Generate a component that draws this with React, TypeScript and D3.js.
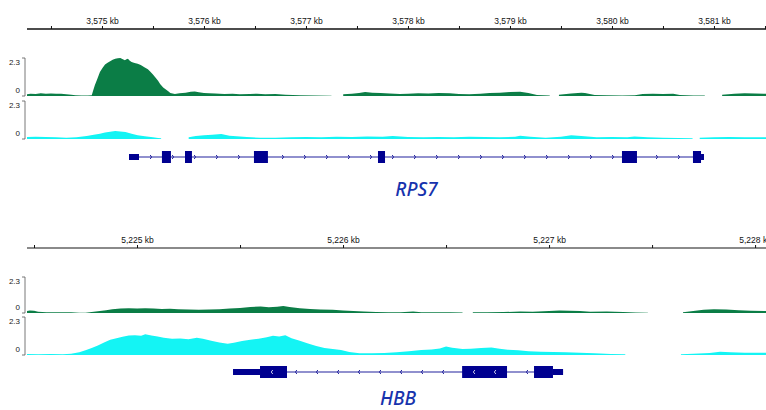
import React, { useEffect, useRef } from 'react';
import * as d3 from 'd3';

type Pt = [number, number | null];

// ---- RPS7 locus (kb) ----
const rpsDomain = [3574.265, 3581.51];
const rpsMajorTicks = [3575, 3576, 3577, 3578, 3579, 3580, 3581];
const rpsMinorTicks = [3574.5, 3575.5, 3576.5, 3577.5, 3578.5, 3579.5, 3580.5, 3581.5];

const rpsGreen: Pt[] = [
  [3574.265, 0.10], [3574.30, 0.14], [3574.35, 0.12], [3574.40, 0.16], [3574.45, 0.14],
  [3574.50, 0.15], [3574.55, 0.13], [3574.60, 0.14], [3574.65, 0.11], [3574.70, 0.08],
  [3574.74, 0.04], [3574.80, 0.03], [3574.86, 0.03], [3574.90, 0.04], [3574.91, 0.25],
  [3574.93, 0.65], [3574.955, 1.05], [3574.98, 1.45], [3575.005, 1.70], [3575.03, 1.90],
  [3575.055, 2.02], [3575.08, 2.10], [3575.105, 2.20], [3575.13, 2.26], [3575.155, 2.28],
  [3575.18, 2.30], [3575.20, 2.24], [3575.225, 2.17], [3575.24, 2.22], [3575.255, 2.26],
  [3575.27, 2.15], [3575.29, 2.06], [3575.32, 2.00], [3575.35, 1.95], [3575.38, 1.88],
  [3575.42, 1.72], [3575.45, 1.62], [3575.47, 1.50], [3575.50, 1.30], [3575.52, 1.15],
  [3575.55, 0.92], [3575.57, 0.73], [3575.60, 0.52], [3575.62, 0.42], [3575.65, 0.28],
  [3575.67, 0.18], [3575.715, 0.12], [3575.76, 0.16], [3575.82, 0.20], [3575.87, 0.25],
  [3575.91, 0.27], [3575.95, 0.22], [3576.00, 0.18], [3576.05, 0.17], [3576.11, 0.15],
  [3576.20, 0.12], [3576.28, 0.14], [3576.35, 0.10], [3576.45, 0.12], [3576.52, 0.14],
  [3576.60, 0.11], [3576.70, 0.12], [3576.80, 0.08], [3576.94, 0.04], [3577.10, 0.03],
  [3577.25, 0.02], [3577.30, null], [3577.365, 0.10], [3577.45, 0.14], [3577.52, 0.18],
  [3577.58, 0.24], [3577.65, 0.20], [3577.73, 0.18], [3577.82, 0.15], [3577.92, 0.12],
  [3578.00, 0.14], [3578.10, 0.16], [3578.20, 0.15], [3578.30, 0.18], [3578.41, 0.16],
  [3578.50, 0.12], [3578.60, 0.10], [3578.71, 0.14], [3578.80, 0.18], [3578.90, 0.20],
  [3579.00, 0.24], [3579.10, 0.26], [3579.18, 0.18], [3579.265, 0.06], [3579.39, 0.03],
  [3579.43, null], [3579.48, 0.08], [3579.60, 0.15], [3579.70, 0.20], [3579.735, 0.18],
  [3579.83, 0.06], [3579.95, 0.04], [3580.10, 0.03], [3580.225, 0.05], [3580.30, 0.12],
  [3580.40, 0.14], [3580.50, 0.12], [3580.60, 0.13], [3580.665, 0.06], [3580.80, 0.03],
  [3580.91, 0.03], [3581.00, null], [3581.08, 0.08], [3581.20, 0.14], [3581.30, 0.16],
  [3581.40, 0.15], [3581.51, 0.14],
];

const rpsCyan: Pt[] = [
  [3574.265, 0.12], [3574.35, 0.14], [3574.45, 0.12], [3574.55, 0.10], [3574.65, 0.08],
  [3574.75, 0.10], [3574.85, 0.18], [3574.92, 0.25], [3574.98, 0.32], [3575.03, 0.40],
  [3575.08, 0.44], [3575.13, 0.48], [3575.18, 0.45], [3575.23, 0.42], [3575.30, 0.30],
  [3575.35, 0.22], [3575.42, 0.16], [3575.50, 0.10], [3575.55, 0.06], [3575.58, 0.05],
  [3575.70, null], [3575.85, 0.10], [3575.92, 0.18], [3576.00, 0.22], [3576.08, 0.26],
  [3576.17, 0.30], [3576.25, 0.20], [3576.32, 0.16], [3576.42, 0.12], [3576.55, 0.08],
  [3576.70, 0.07], [3576.85, 0.10], [3577.00, 0.12], [3577.15, 0.10], [3577.30, 0.14],
  [3577.45, 0.12], [3577.60, 0.15], [3577.75, 0.14], [3577.85, 0.18], [3578.00, 0.12],
  [3578.15, 0.10], [3578.30, 0.12], [3578.45, 0.10], [3578.60, 0.14], [3578.75, 0.12],
  [3578.90, 0.10], [3579.05, 0.14], [3579.10, 0.20], [3579.20, 0.14], [3579.35, 0.08],
  [3579.50, 0.14], [3579.60, 0.22], [3579.70, 0.18], [3579.85, 0.10], [3580.00, 0.12],
  [3580.15, 0.10], [3580.22, 0.15], [3580.35, 0.10], [3580.50, 0.08], [3580.65, 0.06],
  [3580.79, 0.05], [3580.82, null], [3580.86, 0.08], [3581.00, 0.10], [3581.15, 0.12],
  [3581.30, 0.10], [3581.51, 0.10],
];

// exons: [start, end, thick?]
const rpsExons: [number, number, boolean][] = [
  [3575.265, 3575.363, false], [3575.588, 3575.676, true], [3575.814, 3575.882, true],
  [3576.49, 3576.627, true], [3577.706, 3577.775, true], [3580.098, 3580.245, true],
  [3580.794, 3580.873, true], [3580.873, 3580.902, false],
];

// ---- HBB locus (kb) ----
const hbbDomain = [5224.466, 5228.053];
const hbbMajorTicks = [5225, 5226, 5227, 5228];
const hbbMinorTicks = [5224.5, 5225.5, 5226.5, 5227.5];

const hbbGreen: Pt[] = [
  [5224.466, 0.12], [5224.48, 0.16], [5224.50, 0.14], [5224.52, 0.08], [5224.56, 0.05],
  [5224.62, 0.05], [5224.68, 0.04], [5224.72, 0.02], [5224.75, 0.02], [5224.78, 0.06],
  [5224.82, 0.12], [5224.85, 0.18], [5224.88, 0.24], [5224.92, 0.28], [5224.96, 0.30],
  [5225.00, 0.28], [5225.04, 0.31], [5225.08, 0.29], [5225.12, 0.26], [5225.16, 0.27],
  [5225.20, 0.24], [5225.25, 0.22], [5225.30, 0.20], [5225.35, 0.22], [5225.40, 0.24],
  [5225.45, 0.28], [5225.50, 0.32], [5225.55, 0.38], [5225.60, 0.42], [5225.64, 0.36],
  [5225.68, 0.40], [5225.71, 0.45], [5225.74, 0.38], [5225.79, 0.30], [5225.84, 0.26],
  [5225.89, 0.22], [5225.95, 0.20], [5226.00, 0.16], [5226.05, 0.12], [5226.10, 0.10],
  [5226.16, 0.06], [5226.22, 0.04], [5226.28, 0.05], [5226.34, 0.10], [5226.38, 0.05],
  [5226.45, 0.04], [5226.52, 0.04], [5226.58, 0.03], [5226.60, null], [5226.63, 0.04],
  [5226.70, 0.05], [5226.78, 0.06], [5226.86, 0.10], [5226.92, 0.08], [5227.00, 0.12],
  [5227.05, 0.16], [5227.10, 0.15], [5227.15, 0.12], [5227.20, 0.08], [5227.28, 0.10],
  [5227.36, 0.06], [5227.42, 0.03], [5227.48, 0.02], [5227.55, null], [5227.65, 0.05],
  [5227.70, 0.12], [5227.75, 0.20], [5227.80, 0.24], [5227.86, 0.22], [5227.92, 0.18],
  [5227.98, 0.14], [5228.053, 0.12],
];

const hbbCyan: Pt[] = [
  [5224.466, 0.06], [5224.52, 0.05], [5224.58, 0.06], [5224.64, 0.05], [5224.68, 0.08],
  [5224.72, 0.16], [5224.75, 0.28], [5224.78, 0.42], [5224.81, 0.58], [5224.84, 0.75],
  [5224.87, 0.92], [5224.90, 1.02], [5224.93, 1.10], [5224.96, 1.18], [5224.99, 1.20],
  [5225.02, 1.16], [5225.04, 1.26], [5225.07, 1.18], [5225.10, 1.12], [5225.13, 1.05],
  [5225.17, 0.98], [5225.21, 1.00], [5225.25, 0.96], [5225.29, 1.04], [5225.32, 0.98],
  [5225.36, 0.86], [5225.40, 0.76], [5225.44, 0.68], [5225.47, 0.74], [5225.51, 0.84],
  [5225.55, 0.92], [5225.59, 0.98], [5225.63, 1.08], [5225.66, 1.16], [5225.69, 1.12],
  [5225.72, 1.20], [5225.75, 1.02], [5225.79, 0.86], [5225.83, 0.70], [5225.87, 0.55],
  [5225.91, 0.42], [5225.95, 0.36], [5225.99, 0.30], [5226.03, 0.18], [5226.08, 0.10],
  [5226.14, 0.10], [5226.20, 0.12], [5226.26, 0.16], [5226.32, 0.22], [5226.38, 0.30],
  [5226.43, 0.34], [5226.47, 0.40], [5226.50, 0.52], [5226.53, 0.44], [5226.58, 0.36],
  [5226.62, 0.38], [5226.67, 0.42], [5226.72, 0.46], [5226.76, 0.38], [5226.80, 0.32],
  [5226.85, 0.28], [5226.90, 0.22], [5226.96, 0.20], [5227.02, 0.18], [5227.08, 0.16],
  [5227.15, 0.14], [5227.22, 0.10], [5227.30, 0.06], [5227.37, 0.04], [5227.50, null],
  [5227.64, 0.05], [5227.70, 0.08], [5227.78, 0.12], [5227.83, 0.20], [5227.88, 0.16],
  [5227.95, 0.14], [5228.053, 0.14],
];

const hbbExons: [number, number, boolean][] = [
  [5225.466, 5225.597, false], [5225.597, 5225.728, true], [5226.578, 5226.796, true],
  [5226.927, 5227.019, true], [5227.019, 5227.068, false],
];

const yMax = 2.3;
const GREEN = '#0b7d46';
const CYAN = '#14f4f4';
const NAVY = '#000090';
const INTRON = '#23239e';

const panels = [
  {
    name: 'RPS7', domain: rpsDomain, major: rpsMajorTicks, minor: rpsMinorTicks,
    axisY: 29, axisColor: '#111', axisWidth: 1.4,
    tracks: [
      { data: rpsGreen, top: 58, bottom: 96, color: GREEN },
      { data: rpsCyan, top: 101, bottom: 139, color: CYAN },
    ],
    exons: rpsExons, strand: '+', geneY: 157, chevStep: 22, labelY: 196,
  },
  {
    name: 'HBB', domain: hbbDomain, major: hbbMajorTicks, minor: hbbMinorTicks,
    axisY: 248, axisColor: '#8a8a8a', axisWidth: 2.2,
    tracks: [
      { data: hbbGreen, top: 277, bottom: 313, color: GREEN },
      { data: hbbCyan, top: 317, bottom: 355, color: CYAN },
    ],
    exons: hbbExons, strand: '-', geneY: 372, chevStep: 21, labelY: 405,
  },
];

const App = () => {
  const svgRef = useRef<SVGSVGElement>(null);

  useEffect(() => {
    const svg = d3.select(svgRef.current);
    svg.selectAll('*').remove();
    const left = 27;
    const right = 766;

    panels.forEach(p => {
      const x = d3.scaleLinear().domain(p.domain).range([left, right]);

      // ruler
      const ax = svg.append('g').attr('transform', `translate(0,${p.axisY})`);
      ax.append('line')
        .attr('x1', left).attr('x2', right)
        .attr('stroke', p.axisColor).attr('stroke-width', p.axisWidth);
      const axis = d3.axisTop(x)
        .tickValues([...p.major, ...p.minor])
        .tickSize(3)
        .tickSizeOuter(0)
        .tickPadding(2)
        .tickFormat(d => (p.major.includes(d as number) ? `${d3.format(',')(d as number)} kb` : ''));
      const ag = ax.append('g').call(axis);
      ag.select('.domain').remove();
      ag.selectAll('line').attr('stroke', '#111');
      ag.selectAll('text')
        .style('font-family', 'Liberation Sans, Arial, sans-serif')
        .style('font-size', '8.5px')
        .attr('fill', '#111');

      // coverage tracks
      p.tracks.forEach(t => {
        const y = d3.scaleLinear().domain([0, yMax]).range([t.bottom, t.top]);
        const area = d3.area<Pt>()
          .defined(d => d[1] !== null)
          .x(d => x(d[0]))
          .y0(t.bottom)
          .y1(d => y(d[1] as number));
        svg.append('path').attr('d', area(t.data)).attr('fill', t.color);

        // data range bracket
        svg.append('path')
          .attr('d', `M22,${t.top}H25V${t.bottom}H22`)
          .attr('fill', 'none').attr('stroke', '#555').attr('stroke-width', 0.8);
        const lab = svg.append('g')
          .style('font-family', 'Liberation Sans, Arial, sans-serif')
          .style('font-size', '8px')
          .attr('fill', '#222')
          .attr('text-anchor', 'end');
        lab.append('text').attr('x', 20).attr('y', y(yMax) + 7).text(String(yMax));
        lab.append('text').attr('x', 20).attr('y', y(0) - 3).text('0');
      });

      // gene model
      const gs = x(p.exons[0][0]);
      const ge = x(p.exons[p.exons.length - 1][1]);
      const g = svg.append('g');
      g.append('line')
        .attr('x1', gs).attr('x2', ge)
        .attr('y1', p.geneY).attr('y2', p.geneY)
        .attr('stroke', INTRON).attr('stroke-width', 1.1);

      const inThick = (px: number) =>
        p.exons.some(e => e[2] && px >= x(e[0]) - 1 && px <= x(e[1]) + 1);
      const inAny = (px: number) =>
        p.exons.some(e => px >= x(e[0]) - 2 && px <= x(e[1]) + 2);

      const dir = p.strand === '+' ? 1 : -1;
      d3.range(gs + p.chevStep, ge - 2, p.chevStep).forEach(cx => {
        if (inAny(cx)) return;
        g.append('path')
          .attr('d', `M${cx - dir * 0.8},${p.geneY - 2}L${cx + dir * 0.6},${p.geneY}L${cx - dir * 0.8},${p.geneY + 2}`)
          .attr('fill', 'none').attr('stroke', INTRON).attr('stroke-width', 1);
      });

      p.exons.forEach(e => {
        const h = e[2] ? 12 : 6;
        g.append('rect')
          .attr('x', x(e[0])).attr('width', x(e[1]) - x(e[0]))
          .attr('y', p.geneY - h / 2).attr('height', h)
          .attr('fill', NAVY);
      });

      // white strand marks inside wide exons
      p.exons.filter(e => e[2] && x(e[1]) - x(e[0]) > 20).forEach(e => {
        const a = x(e[0]);
        const b = x(e[1]);
        d3.range(a + 12, b - 6, 21).forEach(cx => {
          if (!inThick(cx)) return;
          g.append('path')
            .attr('d', `M${cx - dir * 0.8},${p.geneY - 2}L${cx + dir * 0.8},${p.geneY}L${cx - dir * 0.8},${p.geneY + 2}`)
            .attr('fill', 'none').attr('stroke', '#fff').attr('stroke-width', 0.8);
        });
      });

      svg.append('text')
        .attr('x', (gs + ge) / 2)
        .attr('y', p.labelY)
        .attr('text-anchor', 'middle')
        .style('font-family', 'Noto Sans, Open Sans, sans-serif')
        .style('font-style', 'italic')
        .style('font-weight', 500)
        .style('font-size', '19px')
        .attr('fill', '#1733ad')
        .text(p.name);
    });
  }, []);

  return (
    <svg
      ref={svgRef}
      width={766}
      height={410}
      style={{ position: 'absolute', left: 0, top: 0, background: '#fff' }}
    />
  );
};

export default App;
